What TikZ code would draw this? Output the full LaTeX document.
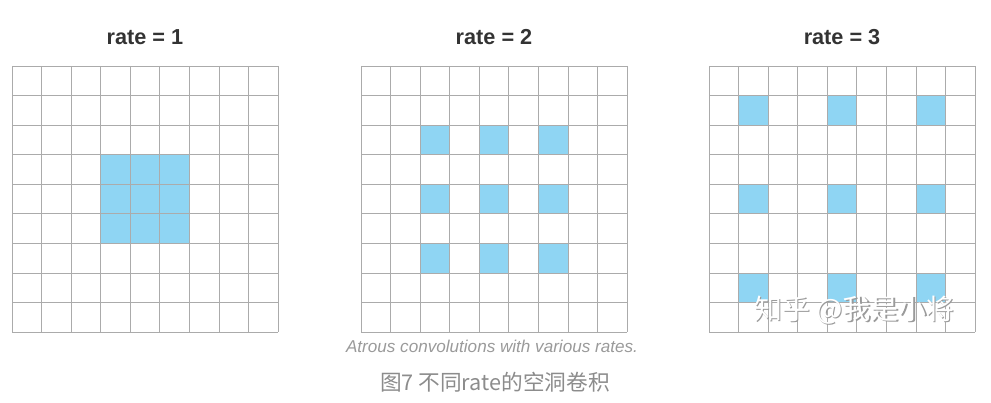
\documentclass[tikz,border=0pt]{standalone}
\usepackage{fontspec}
\setmainfont{Liberation Sans}
\newfontfamily\cjkfont{Noto Sans CJK SC}
\usetikzlibrary{positioning}
\definecolor{rtBlue}{HTML}{8FD5F3}
\definecolor{rtLine}{HTML}{ABABAB}
\definecolor{rtInk} {HTML}{333333}
\definecolor{rtMute}{HTML}{9A9A9A}
\definecolor{rtCap} {HTML}{8C8C8C}

\begin{document}
\begin{tikzpicture}[x=0.03cm,y=-0.03cm,
      title/.style={font=\fontsize{18.5}{20}\selectfont\bfseries,text=rtInk},
      tap/.style={fill=rtBlue},
      gridline/.style={draw=rtLine,line width=0.65pt}]
    \useasboundingbox (0,0) rectangle (991,403);

    % three 9x9 inputs, the 3x3 kernel taps spread \r cells apart
    \foreach \gx/\r/\first/\k in {12/1/3/1,361/2/2/2,709/3/1/3}{
      \begin{scope}[shift={(\gx,66)}]
        \foreach \i in {0,1,2}
          \foreach \j in {0,1,2}
            \fill[tap] ({(\first+\i*\r)*266/9},{(\first+\j*\r)*266/9}) rectangle +(266/9,266/9);
        \foreach \n in {0,...,9}{
          \draw[gridline] ({\n*266/9},0) -- ({\n*266/9},266);
          \draw[gridline] (0,{\n*266/9}) -- (266,{\n*266/9});
        }
      \end{scope}
      \node[title] (t\k) at (\gx+133,37) {rate = \k};
    }

    % watermark over the last grid
    \node[text=rtMute,font=\cjkfont\fontsize{23.8}{25}\selectfont] (mark0) at (855.8,311.2) {知乎 @我是小将};
    \node[text=white,font=\cjkfont\fontsize{23.8}{25}\selectfont] (mark) at (854.5,310) {知乎 @我是小将};

    % captions
    \node[text=rtMute,font=\fontsize{14.6}{16}\selectfont\itshape] (sub) at (492,346) {Atrous convolutions with various rates.};
    \node[text=rtCap,font=\cjkfont\fontsize{18.5}{20}\selectfont] (cap) at (495,382) {图7 不同rate的空洞卷积};
  \end{tikzpicture}
\end{document}
